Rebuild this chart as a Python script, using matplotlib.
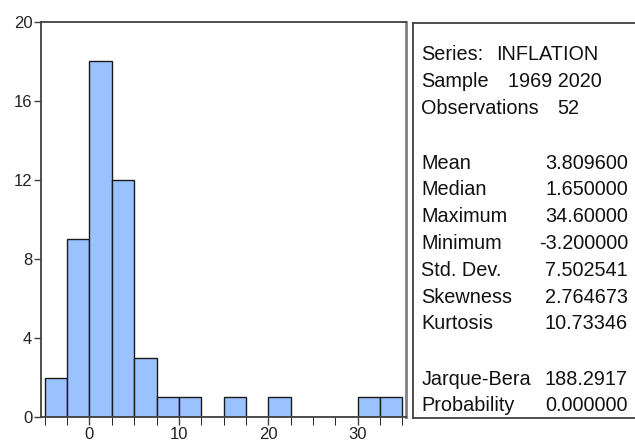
import matplotlib.pyplot as plt
import numpy as np

# histogram counts (bin width 2.5, from -5 to 35)
binEdges = [-5, -2.5, 0, 2.5, 5, 7.5, 10, 12.5, 15, 17.5, 20, 22.5, 25, 27.5, 30, 32.5, 35]
counts = [2, 9, 18, 12, 3, 1, 1, 0, 1, 0, 1, 0, 0, 0, 1, 1]
xTicks = [0, 10, 20, 30]
yTicks = [0, 4, 8, 12, 16, 20]

# stats panel
headLabels = ["Series:", "Sample", "Observations"]
headValues = ["INFLATION", "1969 2020", "52"]
statLabels = ["Mean", "Median", "Maximum", "Minimum", "Std. Dev.", "Skewness", "Kurtosis"]
statValues = ["3.809600", "1.650000", "34.60000", "-3.200000", "7.502541", "2.764673", "10.73346"]
testLabels = ["Jarque-Bera", "Probability"]
testValues = ["188.2917", "0.000000"]

plt.rcParams['font.family'] = ['Liberation Sans', 'DejaVu Sans']

W, H = 635, 444
fig = plt.figure(figsize=(W / 100, H / 100), dpi=100)
frameCol = "#404040"

# histogram panel
ax = fig.add_axes([40.7 / W, 1 - 417 / H, (406 - 40.7) / W, (417 - 22) / H])
ax.bar(binEdges[:-1], counts, width=2.5, align="edge", color="#99c2ff",
       edgecolor="#1a1a1a", linewidth=1.0)
ax.set_xlim(-5.45, 35.4)
ax.set_ylim(0, 20)
ax.set_xticks(binEdges, minor=True)
ax.set_xticks(xTicks)
ax.set_yticks(yTicks)
ax.tick_params(axis="both", direction="out", labelsize=12, colors=frameCol,
               labelcolor="#222222", width=1.0)
ax.tick_params(axis="x", which="both", length=6, pad=1)
ax.tick_params(axis="y", length=5, pad=1)
for s in ax.spines.values():
    s.set_color(frameCol)
    s.set_linewidth(1.3)
ax.spines["right"].set_color("#808080")
ax.spines["right"].set_linewidth(2)

# stats panel (right edge runs off the image)
bx = fig.add_axes([412.7 / W, 1 - 418 / H, (640 - 412.7) / W, (418 - 22.7) / H])
bx.set_xlim(412.7, 640)
bx.set_ylim(418, 22.7)
bx.set_xticks([])
bx.set_yticks([])
for s in bx.spines.values():
    s.set_color(frameCol)
    s.set_linewidth(1.3)

fs = 14.3
txtCol = "#111111"
xl, xr = 421.5, 628
step = 26.8
y0 = 55
headX = [496.5, 508, 557]
for i, (lab, val) in enumerate(zip(headLabels, headValues)):
    y = y0 + i * step
    bx.text(xl, y, lab, fontsize=fs, color=txtCol, va="center", ha="left")
    bx.text(headX[i], y, val, fontsize=fs, color=txtCol, va="center", ha="left")

y1 = 163
for i, (lab, val) in enumerate(zip(statLabels, statValues)):
    y = y1 + i * step
    bx.text(xl, y, lab, fontsize=fs, color=txtCol, va="center", ha="left")
    bx.text(xr, y, val, fontsize=fs, color=txtCol, va="center", ha="right")

y2 = 379
for i, (lab, val) in enumerate(zip(testLabels, testValues)):
    y = y2 + i * step
    bx.text(xl, y, lab, fontsize=fs, color=txtCol, va="center", ha="left")
    bx.text(xr, y, val, fontsize=fs, color=txtCol, va="center", ha="right")

fig.savefig("out.png", dpi=100)
